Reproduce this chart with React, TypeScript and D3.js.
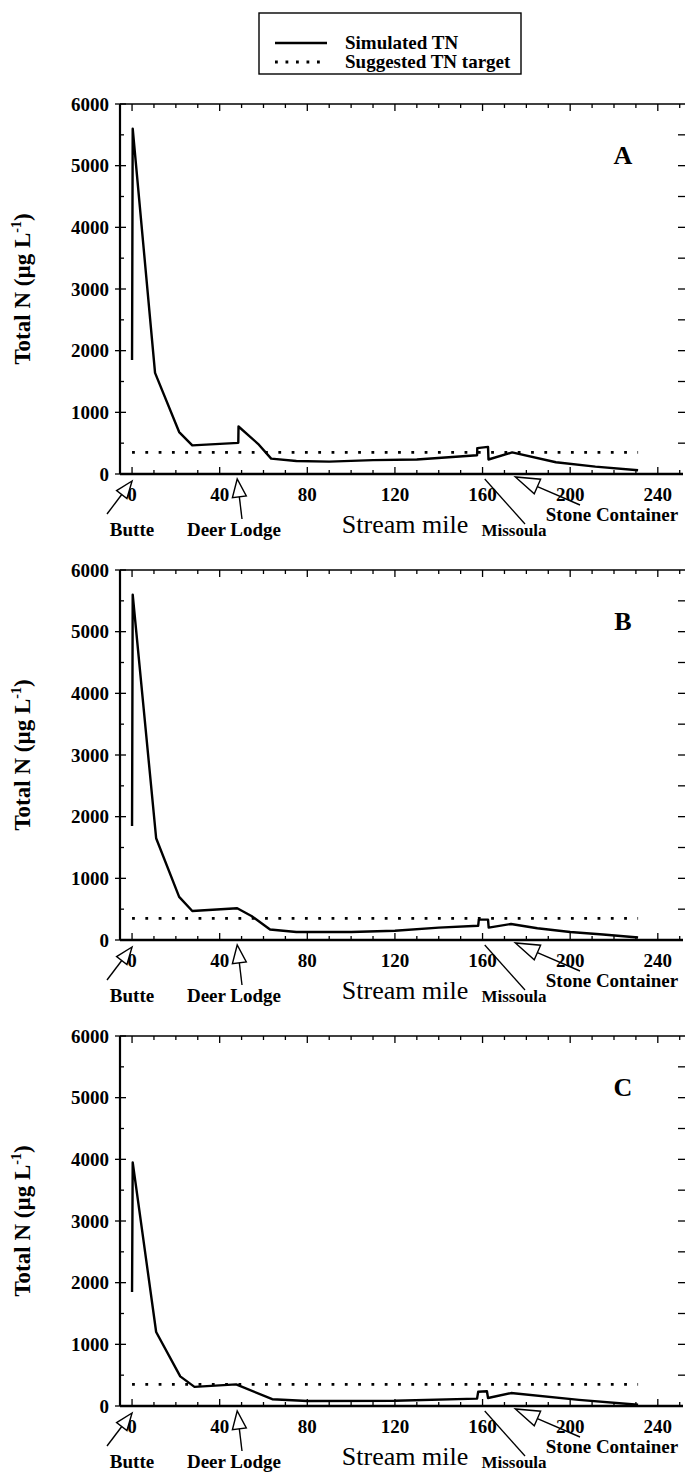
import React from 'react';
import * as d3 from 'd3';

// ---------- data ----------
const panelLabels = ['A', 'B', 'C'];
const xTicks = [0, 40, 80, 120, 160, 200, 240];
const yTicks = [0, 1000, 2000, 3000, 4000, 5000, 6000];
const targetTN = 350;
const targetStart = 0;
const targetEnd = 231;

const milesA = [0, 0.3, 10.5, 21.5, 27.5, 48.5, 48.6, 57.5, 63.5, 75, 90, 110, 130, 157.5, 157.6, 162.5, 162.7, 173.5, 193.5, 211.5, 231];
const tnA = [1850, 5600, 1640, 680, 465, 505, 770, 490, 250, 210, 200, 225, 235, 305, 420, 440, 235, 350, 190, 120, 60];

const milesB = [0, 0.3, 11, 21.5, 27.5, 48, 54.5, 63, 75, 100, 120, 140, 158, 158.3, 162.5, 162.8, 173, 185, 200, 215, 231];
const tnB = [1850, 5600, 1650, 700, 470, 515, 390, 170, 130, 130, 150, 200, 230, 330, 330, 200, 260, 190, 130, 90, 40];

const milesC = [0, 0.3, 11, 22, 28.5, 47.5, 64, 80, 120, 157.5, 158, 162, 162.5, 173, 204, 231];
const tnC = [1850, 3950, 1200, 480, 310, 350, 110, 80, 85, 120, 230, 240, 130, 210, 100, 20];

const seriesMiles = [milesA, milesB, milesC];
const seriesTN = [tnA, tnB, tnC];

const siteNames = ['Butte', 'Deer Lodge', 'Missoula', 'Stone Container'];
const siteMiles = [0, 48, 161, 175];

// ---------- layout ----------
const W = 685;
const H = 1473;
const plotLeft = 120;
const plotRight = 683;
const panelTops = [104, 570, 1036];
const panelH = 370;
const FONT = "'Liberation Serif', 'Times New Roman', serif";

const x = d3.scaleLinear().domain([-5.5, 251.5]).range([plotLeft, plotRight]);

function OpenArrow({ tip, tail, len, hw }: { tip: [number, number]; tail: [number, number]; len: number; hw: number }) {
  const dx = tail[0] - tip[0];
  const dy = tail[1] - tip[1];
  const d = Math.hypot(dx, dy);
  const ux = dx / d, uy = dy / d;
  const bx = tip[0] + ux * len, by = tip[1] + uy * len;
  const nx = -uy, ny = ux;
  const pts = `${tip[0]},${tip[1]} ${bx + nx * hw},${by + ny * hw} ${bx - nx * hw},${by - ny * hw}`;
  return (
    <g>
      <polygon points={pts} fill="white" stroke="black" strokeWidth={1.4} strokeLinejoin="miter" />
      <line x1={bx} y1={by} x2={tail[0]} y2={tail[1]} stroke="black" strokeWidth={1.4} />
    </g>
  );
}

function Panel({ idx }: { idx: number }) {
  const top = panelTops[idx];
  const bottom = top + panelH;
  const y = d3.scaleLinear().domain([0, 6000]).range([bottom, top]);
  const pts: [number, number][] = seriesMiles[idx].map((m, i) => [m, seriesTN[idx][i]]);
  const line = d3.line<[number, number]>().x(d => x(d[0])).y(d => y(d[1]));
  const minorX = d3.range(0, 251, 10);
  const minorY = d3.range(0, 6001, 500);
  const y0 = bottom;
  return (
    <g>
      {/* frame */}
      <line x1={plotLeft} y1={top} x2={W} y2={top} stroke="black" strokeWidth={1.6} />
      <line x1={plotLeft} y1={top} x2={plotLeft} y2={bottom} stroke="black" strokeWidth={2.2} />
      <line x1={plotLeft} y1={bottom} x2={plotRight} y2={bottom} stroke="black" strokeWidth={2.5} />
      {/* x ticks top & bottom */}
      {minorX.map(m => {
        const major = m % 40 === 0;
        const L = major ? 7 : 4;
        return (
          <g key={'xt' + m}>
            <line x1={x(m)} x2={x(m)} y1={bottom} y2={bottom - L} stroke="black" strokeWidth={1.3} />
            <line x1={x(m)} x2={x(m)} y1={top} y2={top + L} stroke="black" strokeWidth={1.3} />
          </g>
        );
      })}
      {/* y ticks left & right */}
      {minorY.map(v => {
        const major = v % 1000 === 0;
        return (
          <g key={'yt' + v}>
            <line x1={major ? plotLeft - 5 : plotLeft} x2={plotLeft + (major ? 6 : 4)} y1={y(v)} y2={y(v)} stroke="black" strokeWidth={1.3} />
            {v > 0 && v < 6000 && (
              <line x1={plotRight - 5} x2={W} y1={y(v)} y2={y(v)} stroke="black" strokeWidth={1.3} />
            )}
          </g>
        );
      })}
      {/* tick labels */}
      {yTicks.map(v => (
        <text key={'yl' + v} x={109} y={y(v)} dy="0.35em" textAnchor="end" fontFamily={FONT} fontWeight="bold" fontSize={19}>
          {v}
        </text>
      ))}
      {xTicks.map(m => (
        <text key={'xl' + m} x={x(m)} y={y0 + 27} textAnchor="middle" fontFamily={FONT} fontWeight="bold" fontSize={19}>
          {m}
        </text>
      ))}
      {/* target */}
      <line x1={x(targetStart)} x2={x(targetEnd)} y1={y(targetTN)} y2={y(targetTN)} stroke="black" strokeWidth={2.8} strokeDasharray="2.8 10.5" />
      {/* simulated */}
      <path d={line(pts) || ''} fill="none" stroke="black" strokeWidth={2.4} strokeLinejoin="round" />
      {/* panel letter */}
      <text x={623} y={top + 60} textAnchor="middle" fontFamily={FONT} fontWeight="bold" fontSize={26}>
        {panelLabels[idx]}
      </text>
      {/* y title */}
      <text transform={`translate(30, ${top + panelH / 2}) rotate(-90)`} textAnchor="middle" fontFamily={FONT} fontWeight="bold" fontSize={23}>
        Total N (µg L<tspan fontSize={14} dy={-9}>-1</tspan><tspan dy={9}>)</tspan>
      </text>
      {/* annotations */}
      <OpenArrow tip={[x(siteMiles[0]), y0 + 7]} tail={[107, y0 + 40]} len={17} hw={6.5} />
      <OpenArrow tip={[x(siteMiles[1]), y0 + 5]} tail={[242, y0 + 45]} len={18} hw={7} />
      <line x1={x(siteMiles[2])} y1={y0 + 5} x2={525} y2={y0 + 50} stroke="black" strokeWidth={1.3} />
      <OpenArrow tip={[x(siteMiles[3]), y0 + 3]} tail={[580, y0 + 31]} len={24} hw={8} />
      <text x={132} y={y0 + 62} textAnchor="middle" fontFamily={FONT} fontWeight="bold" fontSize={19}>{siteNames[0]}</text>
      <text x={234} y={y0 + 62} textAnchor="middle" fontFamily={FONT} fontWeight="bold" fontSize={19}>{siteNames[1]}</text>
      <text x={405} y={y0 + 59} textAnchor="middle" fontFamily={FONT} fontSize={26}>Stream mile</text>
      <text x={514} y={y0 + 62} textAnchor="middle" fontFamily={FONT} fontWeight="bold" fontSize={17}>{siteNames[2]}</text>
      <text x={612} y={y0 + 47} textAnchor="middle" fontFamily={FONT} fontWeight="bold" fontSize={19}>{siteNames[3]}</text>
    </g>
  );
}

export default function App() {
  return (
    <svg width={W} height={H} viewBox={`0 0 ${W} ${H}`} style={{ position: 'absolute', left: 0, top: 0, background: 'white' }}>
      <rect x={0} y={0} width={W} height={H} fill="white" />
      {/* legend */}
      <rect x={259} y={13} width={262} height={61} fill="white" stroke="black" strokeWidth={1.4} />
      <line x1={275} x2={327} y1={43} y2={43} stroke="black" strokeWidth={2.4} />
      <text x={345} y={49} fontFamily={FONT} fontWeight="bold" fontSize={19}>Simulated TN</text>
      <line x1={275} x2={320} y1={62} y2={62} stroke="black" strokeWidth={2.8} strokeDasharray="2.8 7.7" />
      <text x={345} y={68} fontFamily={FONT} fontWeight="bold" fontSize={19}>Suggested TN target</text>
      {panelLabels.map((_, i) => (
        <Panel key={i} idx={i} />
      ))}
    </svg>
  );
}
